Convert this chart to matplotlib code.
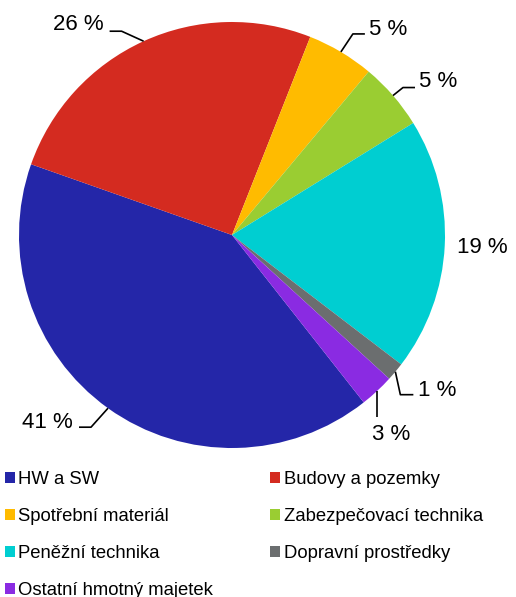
"""Pie chart of asset categories with Excel-style leader labels."""

import matplotlib

matplotlib.use("Agg")

import matplotlib.pyplot as plt
import numpy as np
from matplotlib.patches import Patch

plt.rcParams["font.family"] = ["Liberation Sans", "DejaVu Sans"]

categories = [
    "HW a SW",
    "Budovy a pozemky",
    "Spotřební materiál",
    "Zabezpečovací technika",
    "Peněžní technika",
    "Dopravní prostředky",
    "Ostatní hmotný majetek",
]
shares = [41.0, 25.6, 5.1, 5.1, 19.2, 1.4, 2.6]
value_labels = ["41 %", "26 %", "5 %", "5 %", "19 %", "1 %", "3 %"]
colors = ["#2426A8", "#D42B20", "#FFBB00", "#9ACD32", "#00CED1", "#6B6E6F", "#8A2BE2"]

# leader layout in pixels relative to the wedge edge point (x right, y down):
# elbow, line end, text x, text baseline, alignment
R_PX = 213.0
layout = [
    ((-17, 19), (-29, 19), -35, 20, "right"),
    ((-22, -10), (-34, -10), -40, -11, "right"),
    ((12, -18), (24, -18), 28, -17, "left"),
    ((10, -8), (22, -8), 26, -9, "left"),
    (None, None, 12, 7, "left"),
    ((5, 23), (18, 23), 23, 24, "left"),
    ((0, 26), (0, 26), 14, 49, "center"),
]


def main() -> None:
    fig = plt.figure(figsize=(5.16, 5.97), dpi=100)
    ax = fig.add_axes([0, 0, 1, 1])

    wedges, _ = ax.pie(
        shares,
        colors=colors,
        startangle=-51.8,
        counterclock=False,
        radius=1.0,
        wedgeprops=dict(linewidth=0),
    )

    for w, text, (elbow, end, tx, ty, ha) in zip(wedges, value_labels, layout):
        mid = np.deg2rad((w.theta1 + w.theta2) / 2)
        px, py = np.cos(mid), np.sin(mid)
        if elbow is not None:
            xs = [px, px + elbow[0] / R_PX, px + end[0] / R_PX]
            ys = [py, py - elbow[1] / R_PX, py - end[1] / R_PX]
            ax.plot(xs, ys, color="black", lw=1.2, solid_capstyle="butt")
        ax.text(px + tx / R_PX, py - ty / R_PX, text, ha=ha, va="baseline",
                fontsize=16, color="black")

    ax.set_xlim(-232 / R_PX, (516 - 232) / R_PX)
    ax.set_ylim(-(597 - 235) / R_PX, 235 / R_PX)
    ax.set_aspect("equal")
    ax.axis("off")

    handles = [Patch(facecolor=c, edgecolor="none") for c in colors]
    order = [0, 2, 4, 6, 1, 3, 5]
    fig.legend(
        [handles[i] for i in order],
        [categories[i] for i in order],
        ncol=2,
        loc="upper left",
        bbox_to_anchor=(5 / 516, 1 - 471 / 597),
        frameon=False,
        borderpad=0,
        borderaxespad=0,
        handlelength=0.55,
        handleheight=0.55,
        handletextpad=0.18,
        columnspacing=3.08,
        labelspacing=1.09,
        fontsize=13.3,
    )

    fig.savefig("out.png", dpi=100)


if __name__ == "__main__":
    main()
